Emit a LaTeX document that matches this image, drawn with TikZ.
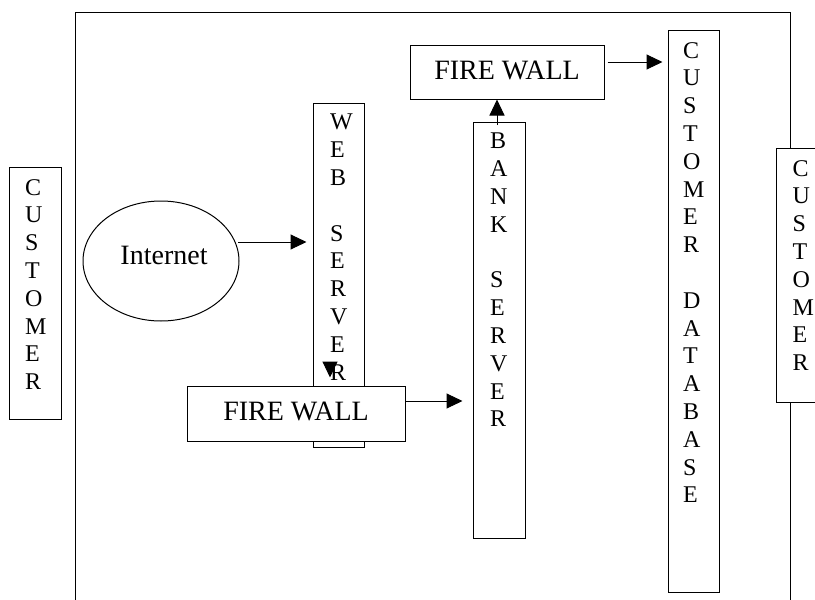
\documentclass[tikz,border=0pt]{standalone}
\usepackage{fontspec}
\setmainfont{Liberation Serif}
\usetikzlibrary{arrows.meta,shapes.geometric}
\begin{document}
\begin{tikzpicture}[x=1pt,y=-1pt,
  box/.style={draw=black,line width=1pt,fill=white,rectangle,inner sep=0pt},
  col/.style={anchor=north west,inner sep=0pt,align=left,font=\fontsize{24}{27.8}\selectfont},
  big/.style={inner sep=0pt,font=\fontsize{28}{32}\selectfont},
  arr/.style={line width=1pt,-{Triangle[length=16pt,width=15pt]}}]
\clip (0,0) rectangle (815,600);
\useasboundingbox (0,0) rectangle (815,600);
% outer frame
\draw[line width=1pt] (75,610) -- (75,12) -- (790,12) -- (790,610);
% left customer
\node[box,minimum width=52,minimum height=252] (custL) at (35,293) {};
\node[col] (custLt) at (25,179) {C\\U\\S\\T\\O\\M\\E\\R};
% internet
\node[draw,line width=1pt,ellipse,minimum width=156,minimum height=120,inner sep=0pt] (inet) at (161,261) {};
\node[big] (inett) at (164,255) {Internet};
% web server
\node[box,minimum width=51,minimum height=344] (ws) at (338.5,275) {};
\node[col] (wst) at (330,114) {W\\E\\B\\\mbox{}\\S\\E\\R\\V\\E\\R};
% lower firewall
\node[box,minimum width=218,minimum height=55] (fw1) at (296,413.5) {};
\node[big] (fw1t) at (296,411) {FIRE WALL};
% bank server
\node[box,minimum width=52,minimum height=416] (bs) at (499,330) {};
\node[col] (bst) at (490,133) {B\\A\\N\\K\\\mbox{}\\S\\E\\R\\V\\E\\R};
% upper firewall
\node[box,minimum width=194,minimum height=54] (fw2) at (507,72) {};
\node[big] (fw2t) at (507,70) {FIRE WALL};
% customer database
\node[box,minimum width=51,minimum height=562] (db) at (693.5,311) {};
\node[col] (dbt) at (683,42) {C\\U\\S\\T\\O\\M\\E\\R\\\mbox{}\\D\\A\\T\\A\\B\\A\\S\\E};
% right customer
\node[box,minimum width=64,minimum height=254] (custR) at (808,275) {};
\node[col] (custRt) at (792.5,160) {C\\U\\S\\T\\O\\M\\E\\R};
% arrows
\coordinate (a1) at (238,242);
\draw[arr] (a1) -- ([xshift=-6]ws.west |- a1);
\coordinate (a2) at (330,363);
\draw[arr] (a2) -- ([yshift=8]fw1.north -| a2);
\coordinate (a3) at (fw1.east |- 0,401);
\draw[arr] (a3) -- ([xshift=-10]bs.west |- a3);
\coordinate (a4) at (497,125);
\draw[arr] (a4) -- (fw2.south -| a4);
\coordinate (a5) at ([xshift=3]fw2.east |- 0,62);
\draw[arr] (a5) -- ([xshift=-5]db.west |- a5);
\end{tikzpicture}
\end{document}
